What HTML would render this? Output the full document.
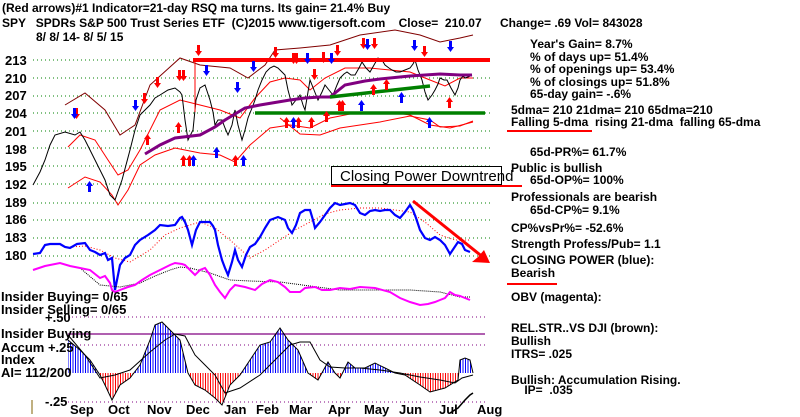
<!DOCTYPE html>
<html><head><meta charset="utf-8"><style>
body{margin:0;width:800px;height:417px;background:#fff;overflow:hidden;position:relative;font-family:"Liberation Sans",sans-serif;font-weight:bold;color:#000}
.t{position:absolute;font-size:13px;white-space:pre;line-height:14px}
.h{position:absolute;font-size:12px;white-space:pre;line-height:14px}
.r{position:absolute;font-size:12px;white-space:pre;line-height:13px;left:530px}
.q{position:absolute;font-size:12px;white-space:pre;line-height:13px;left:511px}
svg{position:absolute;left:0;top:0}
</style></head><body>
<svg width="800" height="417" viewBox="0 0 800 417">
<defs>
<pattern id="pb" width="2.5" height="10" patternUnits="userSpaceOnUse"><rect width="1" height="10" fill="#0000ff"/></pattern>
<pattern id="pr" width="2.5" height="10" patternUnits="userSpaceOnUse"><rect width="1" height="10" fill="#ff0000"/></pattern>
<clipPath id="ca"><rect x="0" y="300" width="800" height="73"/></clipPath>
<clipPath id="cb"><rect x="0" y="373" width="800" height="44"/></clipPath>
</defs>
<g stroke="#008000" stroke-dasharray="1,3" stroke-width="1">
<line x1="33" y1="60" x2="490" y2="60"/><line x1="33" y1="78" x2="490" y2="78"/><line x1="33" y1="96" x2="490" y2="96"/><line x1="33" y1="113" x2="490" y2="113"/><line x1="33" y1="131" x2="490" y2="131"/><line x1="33" y1="148" x2="490" y2="148"/><line x1="33" y1="166" x2="490" y2="166"/><line x1="33" y1="184" x2="490" y2="184"/><line x1="33" y1="203" x2="490" y2="203"/><line x1="33" y1="220" x2="490" y2="220"/><line x1="33" y1="238" x2="490" y2="238"/><line x1="33" y1="256" x2="490" y2="256"/>
</g>
<g stroke="#800080" stroke-dasharray="1,3"><line x1="68" y1="317" x2="485" y2="317"/><line x1="68" y1="345" x2="485" y2="345"/><line x1="68" y1="402" x2="485" y2="402"/></g>
<!-- bands -->
<polyline fill="none" stroke="#800000" stroke-width="1" points="65,105 85,93 105,110 120,135 135,125 150,85 180,58 200,65 230,68 248,78 265,65 275,50 300,48 330,45 360,35 395,30 420,35 440,42 460,38 473,35"/>
<polyline fill="none" stroke="red" stroke-width="1" points="68,147 80,135 95,140 108,160 118,175 128,170 140,150 160,110 180,100 200,105 220,110 240,118 255,98 270,82 285,78 300,80 310,90 325,78 345,68 370,68 390,70 410,72 430,80 445,86 460,78 473,78"/>
<polyline fill="none" stroke="red" stroke-width="1" points="68,188 85,177 100,182 112,195 118,205 128,190 140,165 155,155 175,148 200,153 220,155 235,162 250,145 270,128 290,125 310,128 330,118 360,112 390,112 410,115 430,125 450,128 473,122"/>
<polyline fill="none" stroke="red" stroke-width="1" points="280,118 300,134 320,135 340,128 360,125 380,122 410,116 430,120 440,127 460,126 473,121"/>
<!-- price -->
<polyline fill="none" stroke="#000" stroke-width="1" points="33,185 40,172 45,160 50,145 55,135 65,132 75,135 80,132 85,140 90,150 95,160 100,170 105,180 110,195 115,200 122,180 126,165 130,150 135,130 140,115 145,110 150,105 155,98 160,95 168,90 175,88 180,92 182,95 185,120 188,140 193,130 196,100 200,88 205,85 210,100 213,112 215,125 218,120 222,120 225,128 228,135 232,125 235,110 238,125 242,140 245,130 248,118 252,108 255,100 258,90 262,80 266,72 270,68 274,66 278,68 282,72 285,75 288,90 292,105 296,100 300,95 303,105 305,110 308,92 310,80 314,90 318,100 322,92 325,85 329,90 333,95 337,85 340,78 344,74 347,72 351,75 355,75 359,68 362,62 366,68 370,72 374,65 378,58 382,60 385,65 389,68 392,70 396,72 400,72 405,70 410,68 413,64 415,60 418,70 422,80 425,92 428,100 432,95 435,90 438,84 440,78 444,80 447,80 451,88 455,95 458,88 460,80 463,76 465,78 468,77 472,75"/>
<polyline fill="none" stroke="#800080" stroke-width="3" points="145,154 160,145 175,138 200,135 215,127 225,120 245,108 260,105 290,100 305,98 320,97 330,97 345,85 365,81 380,79 410,76 440,74 460,75 472,75"/>
<line x1="193" y1="60" x2="490" y2="60" stroke="red" stroke-width="4"/>
<line x1="195" y1="58" x2="195" y2="112" stroke="red" stroke-width="1"/>
<line x1="255" y1="113" x2="485" y2="113" stroke="#008000" stroke-width="3.5"/>
<line x1="330" y1="97" x2="430" y2="86" stroke="#008000" stroke-width="3.5"/>
<g fill="red">
<path d="M197,45h3v6h2l-3.5,5l-3.5,-5h2z"/><path d="M274,47h3v6h2l-3.5,5l-3.5,-5h2z"/><path d="M292,53h3v6h2l-3.5,5l-3.5,-5h2z"/><path d="M295,53h3v6h2l-3.5,5l-3.5,-5h2z"/><path d="M313,69h3v6h2l-3.5,5l-3.5,-5h2z"/><path d="M178,70h3v6h2l-3.5,5l-3.5,-5h2z"/><path d="M182,70h3v6h2l-3.5,5l-3.5,-5h2z"/><path d="M156,77h3v6h2l-3.5,5l-3.5,-5h2z"/><path d="M143,93h3v6h2l-3.5,5l-3.5,-5h2z"/><path d="M75,108h3v6h2l-3.5,5l-3.5,-5h2z"/><path d="M336,45h3v6h2l-3.5,5l-3.5,-5h2z"/><path d="M362,38h3v6h2l-3.5,5l-3.5,-5h2z"/><path d="M373,38h3v6h2l-3.5,5l-3.5,-5h2z"/><path d="M423,46h3v6h2l-3.5,5l-3.5,-5h2z"/><path d="M322,52h3v6h2l-3.5,5l-3.5,-5h2z"/>
<path d="M146,145h3v-6h2l-3.5,-5l-3.5,5h2z"/><path d="M177,133h3v-6h2l-3.5,-5l-3.5,5h2z"/><path d="M182,166h3v-6h2l-3.5,-5l-3.5,5h2z"/><path d="M188,166h3v-6h2l-3.5,-5l-3.5,5h2z"/><path d="M234,166h3v-6h2l-3.5,-5l-3.5,5h2z"/><path d="M285,128h3v-6h2l-3.5,-5l-3.5,5h2z"/><path d="M297,128h3v-6h2l-3.5,-5l-3.5,5h2z"/><path d="M310,128h3v-6h2l-3.5,-5l-3.5,5h2z"/><path d="M325,122h3v-6h2l-3.5,-5l-3.5,5h2z"/><path d="M338,111h3v-6h2l-3.5,-5l-3.5,5h2z"/><path d="M341,111h3v-6h2l-3.5,-5l-3.5,5h2z"/><path d="M372,95h3v-6h2l-3.5,-5l-3.5,5h2z"/><path d="M385,90h3v-6h2l-3.5,-5l-3.5,5h2z"/><path d="M448,108h3v-6h2l-3.5,-5l-3.5,5h2z"/>
</g>
<g fill="#0000ff">
<path d="M205,65h3v6h2l-3.5,5l-3.5,-5h2z"/><path d="M252,61h3v6h2l-3.5,5l-3.5,-5h2z"/><path d="M236,82h3v6h2l-3.5,5l-3.5,-5h2z"/><path d="M134,100h3v6h2l-3.5,5l-3.5,-5h2z"/><path d="M73,108h3v6h2l-3.5,5l-3.5,-5h2z"/><path d="M306,53h3v6h2l-3.5,5l-3.5,-5h2z"/><path d="M330,53h3v6h2l-3.5,5l-3.5,-5h2z"/><path d="M366,39h3v6h2l-3.5,5l-3.5,-5h2z"/><path d="M413,40h3v6h2l-3.5,5l-3.5,-5h2z"/><path d="M449,41h3v6h2l-3.5,5l-3.5,-5h2z"/>
<path d="M88,192h3v-6h2l-3.5,-5l-3.5,5h2z"/><path d="M192,166h3v-6h2l-3.5,-5l-3.5,5h2z"/><path d="M215,158h3v-6h2l-3.5,-5l-3.5,5h2z"/><path d="M242,166h3v-6h2l-3.5,-5l-3.5,5h2z"/><path d="M292,128h3v-6h2l-3.5,-5l-3.5,5h2z"/><path d="M360,111h3v-6h2l-3.5,-5l-3.5,5h2z"/><path d="M400,103h3v-6h2l-3.5,-5l-3.5,5h2z"/><path d="M428,128h3v-6h2l-3.5,-5l-3.5,5h2z"/>
</g>
<rect x="331.5" y="166.5" width="170" height="18" fill="#fff" stroke="#000"/>
<text x="340" y="181" font-family="Liberation Sans" font-size="15" font-weight="normal">Closing Power Downtrend</text>
<line x1="331" y1="186" x2="522" y2="186" stroke="red" stroke-width="2"/>
<polyline fill="none" stroke="red" stroke-width="1" stroke-dasharray="1,2" points="70,247 85,246 100,250 115,258 130,262 150,250 165,235 180,228 200,222 215,228 230,240 250,258 265,250 280,240 295,230 310,222 325,214 340,210 360,208 380,208 395,210 410,212 425,222 440,235 455,240 470,240"/>
<polyline fill="none" stroke="#0000ff" stroke-width="2.2" points="33,254 40,253 45,245 50,244 60,244 65,247 70,248 77,244 85,243 90,250 95,252 100,255 105,253 108,260 112,258 115,290 118,275 120,265 125,258 130,255 135,245 140,240 148,235 155,230 160,225 168,226 175,225 180,218 182,217 185,222 188,230 192,245 196,230 200,222 210,222 213,226 215,230 218,245 222,260 225,268 228,275 232,262 235,250 238,260 242,267 246,255 250,247 255,244 260,237 265,228 270,220 278,217 285,220 288,228 292,233 296,225 300,213 305,210 310,210 313,220 315,228 320,222 325,215 330,208 335,203 340,205 345,204 350,203 355,205 360,213 365,215 370,211 375,210 380,211 385,210 390,210 395,215 400,218 405,212 410,205 413,210 416,218 420,230 425,238 430,240 435,237 440,240 445,245 450,254 454,248 458,242 462,244 465,250 470,252"/>
<line x1="413" y1="201" x2="484" y2="258" stroke="red" stroke-width="3"/>
<path d="M490,263 L472,262 L478,257 L484,250Z" fill="red"/>
<polyline fill="none" stroke="#000" stroke-width="1" stroke-dasharray="1,1" points="80,268 100,285 120,287 140,283 155,276 170,270 180,267 190,268 210,273 230,280 250,281 280,282 310,286 340,290 370,290 410,290 440,292 460,297 470,297"/>
<polyline fill="none" stroke="#ff00ff" stroke-width="2" points="33,270 45,266 60,263 70,266 80,268 90,270 100,278 105,276 110,283 112,290 115,292 120,290 128,287 135,285 142,280 150,275 160,270 170,265 175,263 182,264 185,265 190,270 195,275 200,270 205,268 210,275 215,285 220,292 225,298 230,290 235,285 245,287 255,290 262,284 270,280 278,282 285,287 290,292 300,292 305,288 315,287 322,290 330,290 340,288 350,289 360,287 375,288 390,292 400,298 410,302 420,305 428,304 435,302 440,300 445,298 450,292 455,295 460,296 465,298 470,300"/>
<line x1="68" y1="334" x2="485" y2="334" stroke="#800080" stroke-width="1.3"/>
<polygon clip-path="url(#ca)" fill="url(#pb)" points="68,373 68,340 80,350 90,360 100,375 105,385 112,400 120,385 130,378 140,365 150,340 155,325 162,322 170,330 180,340 188,373 195,385 205,390 215,398 222,405 230,385 240,375 250,360 260,345 270,342 280,328 288,340 298,350 308,373 318,380 328,362 335,373 340,378 348,362 355,368 365,368 375,363 385,368 395,373 405,375 420,385 430,392 445,388 458,380 460,360 465,358 470,360 473,373"/>
<polygon clip-path="url(#cb)" fill="url(#pr)" points="68,373 68,340 80,350 90,360 100,375 105,385 112,400 120,385 130,378 140,365 150,340 155,325 162,322 170,330 180,340 188,373 195,385 205,390 215,398 222,405 230,385 240,375 250,360 260,345 270,342 280,328 288,340 298,350 308,373 318,380 328,362 335,373 340,378 348,362 355,368 365,368 375,363 385,368 395,373 405,375 420,385 430,392 445,388 458,380 460,360 465,358 470,360 473,373"/>
<polyline fill="none" stroke="#000" stroke-width="1" points="68,340 80,350 90,360 100,375 105,385 112,400 120,385 130,378 140,365 150,340 155,325 162,322 170,330 180,340 188,373 195,385 205,390 215,398 222,405 230,385 240,375 250,360 260,345 270,342 280,328 288,340 298,350 308,373 318,380 328,362 335,373 340,378 348,362 355,368 365,368 375,363 385,368 395,373 405,375 420,385 430,392 445,388 458,380 460,360 465,358 470,360 473,373"/>
<polyline fill="none" stroke="#000" stroke-width="1" points="68,335 85,355 100,378 115,375 130,370 150,352 165,340 175,334 185,336 195,355 205,365 215,375 225,393 240,388 260,375 275,360 290,345 300,342 310,342 320,360 330,367 345,368 360,368 380,370 400,373 420,377 440,380 455,383 462,378 473,375"/>
<polyline fill="none" stroke="#000" stroke-width="1.5" points="450,413 458,408 465,400 470,395 473,393"/>
<line x1="32" y1="400" x2="32" y2="414" stroke="#806000"/>
</svg>
<div class="h" style="left:2px;top:1px">(Red arrows)#1 Indicator=21-day RSQ ma turns. Its gain= 21.4% Buy</div>
<div class="h" style="left:2px;top:16px">SPY   SPDRs S&amp;P 500 Trust Series ETF  (C)2015 www.tigersoft.com    Close=  210.07</div>
<div class="h" style="left:500px;top:16px">Change= .69 Vol= 843028</div>
<div class="h" style="left:36px;top:30px">8/ 8/ 14- 8/ 5/ 15</div>
<div class="t" style="left:5px;top:52px;line-height:17.7px">213
210
207
204
201
198
195
192
189
186
183
180</div>
<div class="r" style="top:38px">Year's Gain= 8.7%</div>
<div class="r" style="top:51px">% of days up= 51.4%</div>
<div class="r" style="top:63px">% of openings up= 53.4%</div>
<div class="r" style="top:76px">% of closings up= 51.8%</div>
<div class="r" style="top:88px">65-day gain= -.6%</div>
<div class="q" style="top:104px">5dma= 210 21dma= 210 65dma=210</div>
<div class="q" style="top:116px">Falling 5-dma  rising 21-dma  falling 65-dma</div>
<div style="position:absolute;left:507px;top:130px;width:85px;height:2px;background:red"></div>
<div class="r" style="top:146px">65d-PR%= 61.7%</div>
<div class="q" style="top:162px">Public is bullish</div>
<div class="r" style="top:174px">65d-OP%= 100%</div>
<div class="q" style="top:191px">Professionals are bearish</div>
<div class="r" style="top:204px">65d-CP%= 9.1%</div>
<div class="q" style="top:222px">CP%vsPr%= -52.6%</div>
<div class="q" style="top:238px">Strength Profess/Pub= 1.1</div>
<div class="q" style="top:254px">CLOSING POWER (blue):</div>
<div class="q" style="top:267px">Bearish</div>
<div style="position:absolute;left:507px;top:283px;width:50px;height:2px;background:red"></div>
<div class="q" style="top:291px">OBV (magenta):</div>
<div class="q" style="top:322px">REL.STR..VS DJI (brown):</div>
<div class="q" style="top:335px">Bullish</div>
<div class="q" style="top:348px">ITRS= .025</div>
<div class="q" style="top:374px">Bullish: Accumulation Rising.</div>
<div class="q" style="top:384px">    IP=  .035</div>
<div class="t" style="left:1px;top:290px">Insider Buying= 0/65</div>
<div class="t" style="left:1px;top:303px">Insider Selling= 0/65</div>
<div class="t" style="left:45px;top:311px">+.50</div>
<div class="t" style="left:1px;top:327px">Insider Buying</div>
<div class="t" style="left:1px;top:341px">Accum +.25</div>
<div class="t" style="left:1px;top:353px">Index</div>
<div class="t" style="left:1px;top:366px">AI= 112/200</div>
<div class="t" style="left:45px;top:395px">-.25</div>
<div class="t" style="left:70px;top:403px">Sep</div>
<div class="t" style="left:108px;top:403px">Oct</div>
<div class="t" style="left:147px;top:403px">Nov</div>
<div class="t" style="left:186px;top:403px">Dec</div>
<div class="t" style="left:224px;top:403px">Jan</div>
<div class="t" style="left:256px;top:403px">Feb</div>
<div class="t" style="left:289px;top:403px">Mar</div>
<div class="t" style="left:328px;top:403px">Apr</div>
<div class="t" style="left:364px;top:403px">May</div>
<div class="t" style="left:399px;top:403px">Jun</div>
<div class="t" style="left:439px;top:403px">Jul</div>
<div class="t" style="left:477px;top:403px">Aug</div>
</body></html>
